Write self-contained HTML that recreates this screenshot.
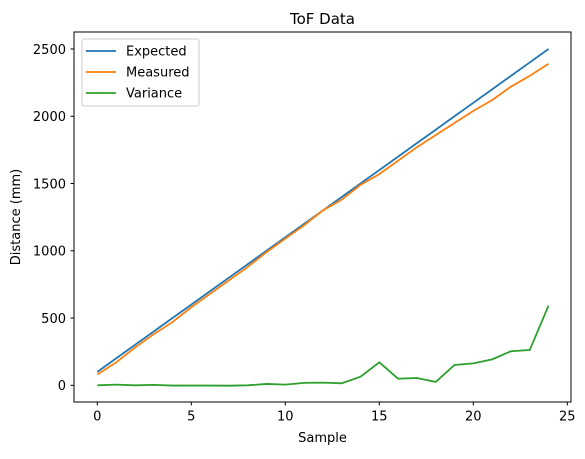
<!DOCTYPE html>
<html><head><meta charset="utf-8"><style>
body{margin:0;background:#fff;font-family:"DejaVu Sans","Liberation Sans",sans-serif;}
svg text{font-family:"DejaVu Sans","Liberation Sans",sans-serif;fill:#000;}
</style></head><body>
<svg id="chart" width="585" height="455" viewBox="0 0 585 455" xmlns="http://www.w3.org/2000/svg">
<rect width="585" height="455" fill="#fff"/>
<text x="322.5" y="24" font-size="15" text-anchor="middle">ToF Data</text>
<g id="grid"></g>
<g id="series"></g>
<rect x="74" y="32" width="497" height="370" fill="none" stroke="#000" stroke-width="1"/>
<text x="322.5" y="442" font-size="13" text-anchor="middle">Sample</text>
<text transform="translate(20,217) rotate(-90)" font-size="13" text-anchor="middle">Distance (mm)</text>
<g>
<rect x="82" y="39" width="117" height="67" rx="2" fill="#fff" fill-opacity="0.8" stroke="#ccc"/>
<line x1="86" y1="51" x2="116" y2="51" stroke="#1f77b4" stroke-width="1.8"/>
<text x="126" y="55.5" font-size="13">Expected</text>
<line x1="86" y1="72" x2="116" y2="72" stroke="#ff7f0e" stroke-width="1.8"/>
<text x="126" y="76.5" font-size="13">Measured</text>
<line x1="86" y1="93" x2="116" y2="93" stroke="#2ca02c" stroke-width="1.8"/>
<text x="126" y="97.5" font-size="13">Variance</text>
</g>
</svg>
<script>
const samples = [0,1,2,3,4,5,6,7,8,9,10,11,12,13,14,15,16,17,18,19,20,21,22,23,24];
const expected = [100,200,300,400,500,600,700,800,900,1000,1100,1200,1300,1400,1500,1600,1700,1800,1900,2000,2100,2200,2300,2400,2500];
const measured = [80,170,280,380,470,580,680,780,880,990,1090,1190,1300,1380,1490,1570,1670,1770,1860,1950,2040,2120,2220,2300,2390];
const variance = [0,5,0,3,-2,-2,-2,-3,0,10,5,18,20,15,64,171,49,54,25,151,163,193,253,262,592];
const xTicks = [0,5,10,15,20,25];
const yTicks = [0,500,1000,1500,2000,2500];
const NS="http://www.w3.org/2000/svg";
function xs(v){return 97.3+v*18.8;}
function ys(v){return 385.3-v*0.13452;}
const g=document.getElementById('grid');
xTicks.forEach(t=>{
 const l=document.createElementNS(NS,'line');
 l.setAttribute('x1',xs(t));l.setAttribute('x2',xs(t));l.setAttribute('y1',402);l.setAttribute('y2',405.5);l.setAttribute('stroke','#000');
 
 
 g.appendChild(l);
 const tx=document.createElementNS(NS,'text');
 tx.setAttribute('x',xs(t));tx.setAttribute('y',420.5);tx.setAttribute('font-size','13');tx.setAttribute('text-anchor','middle');tx.textContent=t;
 
 
 g.appendChild(tx);
});
yTicks.forEach(t=>{
 const l=document.createElementNS(NS,'line');
 l.setAttribute('x1',70.5);l.setAttribute('x2',74);l.setAttribute('y1',ys(t));l.setAttribute('y2',ys(t));l.setAttribute('stroke','#000');
 
 
 g.appendChild(l);
 const tx=document.createElementNS(NS,'text');
 tx.setAttribute('x',66);tx.setAttribute('y',ys(t)+4.8);tx.setAttribute('font-size','13');tx.setAttribute('text-anchor','end');tx.textContent=t;
 
 
 g.appendChild(tx);
});
const s=document.getElementById('series');
function line(arr,color,name){
 const p=document.createElementNS(NS,'polyline');
 p.setAttribute('points',arr.map((v,i)=>xs(samples[i])+','+ys(v)).join(' '));
 p.setAttribute('fill','none');p.setAttribute('stroke',color);p.setAttribute('stroke-width','1.8');
 
 
 s.appendChild(p);
}
line(expected,'#1f77b4','expected-line');
line(measured,'#ff7f0e','measured-line');
line(variance,'#2ca02c','variance-line');
</script>
</body></html>
